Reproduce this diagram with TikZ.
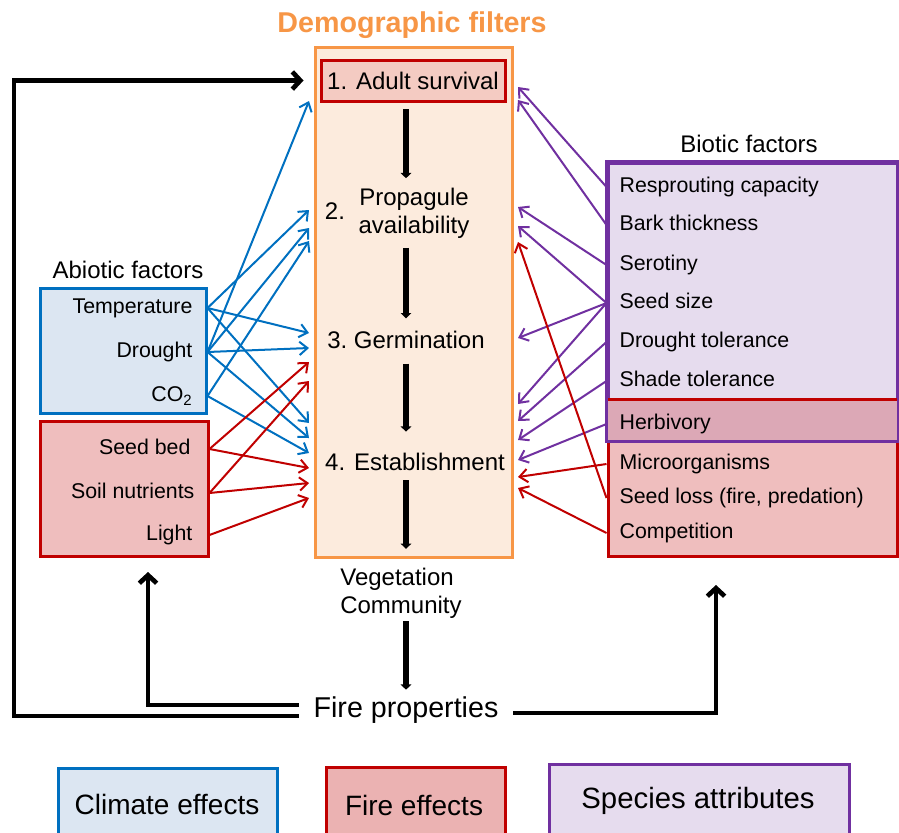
\documentclass[tikz,border=0pt]{standalone}
\usepackage{fontspec}
\setmainfont{Liberation Sans}
\usetikzlibrary{arrows.meta,fit}

\definecolor{climblue}{HTML}{0070C0}
\definecolor{climfill}{HTML}{DCE6F2}
\definecolor{firered}{HTML}{C00000}
\definecolor{firefill}{HTML}{EFBEBE}
\definecolor{legfire}{HTML}{EBB2B2}
\definecolor{adultfill}{HTML}{F4CBC2}
\definecolor{specpurple}{HTML}{7030A0}
\definecolor{specfill}{HTML}{E6DCEE}
\definecolor{herbfill}{HTML}{DCA8B6}
\definecolor{filtorange}{HTML}{F79646}
\definecolor{filtfill}{HTML}{FCEBDD}

\begin{document}
\begin{tikzpicture}[x=0.75pt,y=-0.75pt]
    \tikzstyle{box}=[inner sep=0pt,line width=2.25pt]
    \tikzstyle{stage}=[inner sep=2pt,font=\fontsize{18}{21}\selectfont,text height=13pt,text depth=4pt]
    \tikzstyle{twoline}=[inner sep=2pt,font=\fontsize{18}{21}\selectfont]
    \tikzstyle{lfact}=[anchor=east,inner sep=1pt,font=\fontsize{16}{19}\selectfont,text height=11.5pt,text depth=3pt]
    \tikzstyle{rfact}=[anchor=west,inner sep=1pt,font=\fontsize{16}{19}\selectfont,text height=11.5pt,text depth=3pt]
    \tikzstyle{legtext}=[font=\fontsize{21}{25}\selectfont]
    \tikzstyle{clim}=[climblue,line width=1.5pt,-{Straight Barb[length=6pt,width=10pt]}]
    \tikzstyle{fire}=[firered,line width=1.5pt,-{Straight Barb[length=6pt,width=10pt]}]
    \tikzstyle{spec}=[specpurple,line width=1.5pt,-{Straight Barb[length=6pt,width=10pt]}]
    \tikzstyle{flow}=[line width=4pt,-{Triangle[length=4pt,width=8pt]}]
    \tikzstyle{loopline}=[line width=3.5pt,-{Straight Barb[length=6pt,width=13pt]}]
    \useasboundingbox (0,0) rectangle (899,832);

    % demographic filters
    \node[box,draw=filtorange,fill=filtfill,fit={(315,47) (512,557)}] (filters) {};
    \node[font=\fontsize{21.5}{25}\selectfont\bfseries,text=filtorange] (title) at (412,25) {Demographic filters};
    \node[box,draw=firered,fill=adultfill,minimum width=138pt,minimum height=30.75pt,font=\fontsize{18}{21}\selectfont] (adult) at (413,80.5) {1. Adult survival};
    \node[stage] (num2) at (335,213.6) {2.};
    \node[twoline,align=center] (prop) at (414,213) {Propagule\\availability};
    \node[stage] (germ) at (406,342.6) {3.\ Germination};
    \node[stage] (est) at (415,464.6) {4. Establishment};
    \node[twoline,align=left] (veg) at (401,593) {Vegetation\\Community};
    \node[inner xsep=11pt,inner ysep=0pt,font=\fontsize{21.5}{25}\selectfont] (fire) at (406,710) {Fire properties};

    \coordinate (axis) at (406,0);
    \draw[flow,shorten <=5pt,shorten >=5pt] (adult.south -| axis) -- (prop.north -| axis);
    \draw[flow,shorten <=5pt,shorten >=7.5pt] (prop.south -| axis) -- (germ.north -| axis);
    \draw[flow,shorten <=5pt,shorten >=14pt] (germ.south -| axis) -- (est.north -| axis);
    \draw[flow,shorten <=1pt,shorten >=12pt] (est.south -| axis) -- (veg.north -| axis);
    \draw[flow,shorten >=5pt] (veg.south -| axis) -- (fire.north -| axis);

    % abiotic factors
    \node[font=\fontsize{18}{21}\selectfont] (abiotic) at (128,270) {Abiotic factors};
    \node[box,draw=climblue,fill=climfill,fit={(40,288) (206,413)}] (climbox) {};
    \node[box,draw=firered,fill=firefill,fit={(40,421) (208,556)}] (soilbox) {};
    \node[lfact] (temp) at (194,308) {Temperature};
    \node[lfact] (drought) at (194,352) {Drought};
    \node[lfact] (cotwo) at (194,396) {CO\textsubscript{2}};
    \node[lfact] (seedbed) at (192,449) {Seed bed};
    \node[lfact] (soil) at (196,493) {Soil nutrients};
    \node[lfact] (light) at (194,535) {Light};

    % biotic factors
    \node[font=\fontsize{18}{21}\selectfont] (biotic) at (749,144) {Biotic factors};
    \node[box,draw=specpurple,fill=specfill,fit={(608,163) (897,440)}] (biobox) {};
    \node[box,draw=firered,fill=firefill,fit={(608,401) (897,556)}] (lossbox) {};
    \fill[herbfill] (lossbox.north west) rectangle (biobox.south east);
    \draw[firered,line width=2.25pt] (lossbox.north west) -- (lossbox.north east);
    \draw[specpurple,line width=2.25pt] (biobox.south west) rectangle (biobox.north east);
    \node[rfact] (respr) at (618,187) {Resprouting capacity};
    \node[rfact] (bark) at (618,225) {Bark thickness};
    \node[rfact] (serot) at (618,265) {Serotiny};
    \node[rfact] (seedsize) at (618,303) {Seed size};
    \node[rfact] (drtol) at (618,342) {Drought tolerance};
    \node[rfact] (shade) at (618,381) {Shade tolerance};
    \node[rfact] (herb) at (618,424) {Herbivory};
    \node[rfact] (micro) at (618,464) {Microorganisms};
    \node[rfact] (seedloss) at (618,498) {Seed loss (fire, predation)};
    \node[rfact] (compet) at (618,533) {Competition};

    % arrow ends on the filters box
    \foreach \n/\y in {1/101,2/210,3/228,4/241,5/333,6/348,7/362,8/381,9/423,10/438,11/453,12/468,13/483,14/498}
        \coordinate (L\n) at (309,\y);
    \foreach \n/\y in {1/87,2/100,3/207,4/226,5/242,6/338,7/404,8/421,9/440,10/460,11/477,12/488}
        \coordinate (R\n) at (518,\y);

    \foreach \s/\t in {temp/2,temp/5,temp/9,drought/1,drought/3,drought/6,drought/10,cotwo/4,cotwo/11}
        \draw[clim] (climbox.east |- \s) -- (L\t);
    \foreach \s/\t in {seedbed/7,seedbed/12,soil/8,soil/13,light/14}
        \draw[fire] (soilbox.east |- \s) -- (L\t);
    \foreach \s/\t in {respr/1,bark/2,serot/3,seedsize/4,seedsize/6,seedsize/7,drtol/8,shade/9,herb/10}
        \draw[spec] (biobox.west |- \s) -- (R\t);
    \foreach \s/\t in {seedloss/5,micro/11,compet/12}
        \draw[fire] (lossbox.west |- \s) -- (R\t);

    % fire feedback
    \coordinate (lcorner) at (14,0);
    \coordinate (soilup) at (148,572);
    \coordinate (bioup) at (716,585);
    \draw[loopline] ([yshift=-4.5pt]fire.west) -| (lcorner |- adult) -- ([xshift=-12pt]adult.west);
    \draw[loopline] ([yshift=3.75pt]fire.west) -| (soilup);
    \draw[loopline] ([yshift=-2.25pt]fire.east) -| (bioup);

    % legend
    \node[box,draw=climblue,fill=climfill,fit={(58,768) (277,845)}] (climleg) {};
    \node[box,draw=firered,fill=legfire,fit={(326,767) (505,845)}] (fireleg) {};
    \node[box,draw=specpurple,fill=specfill,fit={(549,764) (849,845)}] (specleg) {};
    \node[legtext] (climlab) at (167,804) {Climate effects};
    \node[legtext] (firelab) at (414,805) {Fire effects};
    \node[legtext,font=\fontsize{22}{26}\selectfont] (speclab) at (698,801) {Species attributes};
\end{tikzpicture}
\end{document}
